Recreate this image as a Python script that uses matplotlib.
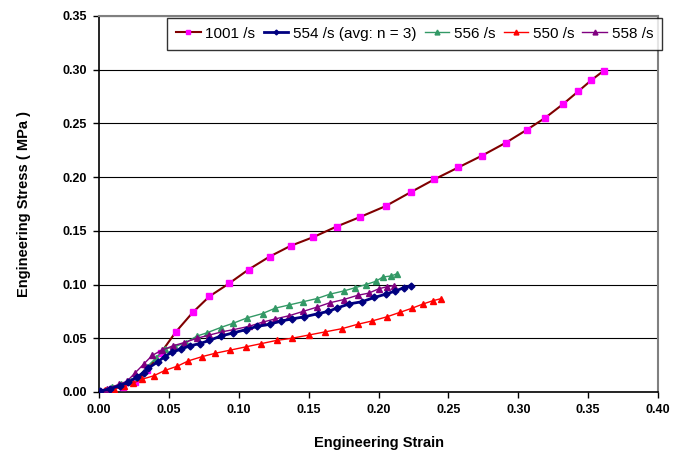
import matplotlib.pyplot as plt
from matplotlib.ticker import FormatStrFormatter

plt.rcParams['font.family'] = ['Liberation Sans', 'DejaVu Sans']

# 1001 /s
strain_1001 = [0.001, 0.009, 0.017, 0.026, 0.034, 0.044, 0.055, 0.067, 0.079, 0.093,
               0.107, 0.122, 0.137, 0.153, 0.170, 0.187, 0.205, 0.223, 0.240, 0.257,
               0.274, 0.291, 0.306, 0.319, 0.332, 0.343, 0.352, 0.361]
stress_1001 = [0.000, 0.003, 0.005, 0.009, 0.020, 0.036, 0.056, 0.074, 0.089, 0.101,
               0.114, 0.126, 0.136, 0.144, 0.154, 0.163, 0.173, 0.186, 0.198, 0.209,
               0.220, 0.232, 0.244, 0.255, 0.268, 0.280, 0.290, 0.299]

# 554 /s (avg: n = 3)
strain_554 = [0.001, 0.008, 0.015, 0.021, 0.027, 0.032, 0.035, 0.042, 0.047, 0.052,
              0.059, 0.065, 0.072, 0.079, 0.087, 0.096, 0.105, 0.113, 0.122, 0.130,
              0.138, 0.147, 0.157, 0.164, 0.170, 0.179, 0.188, 0.197, 0.205, 0.212,
              0.218, 0.223]
stress_554 = [0.001, 0.003, 0.006, 0.009, 0.014, 0.018, 0.022, 0.028, 0.033, 0.037,
              0.040, 0.043, 0.045, 0.048, 0.052, 0.055, 0.058, 0.061, 0.063, 0.066,
              0.068, 0.070, 0.073, 0.075, 0.078, 0.082, 0.084, 0.088, 0.091, 0.094,
              0.097, 0.099]

# 556 /s
strain_556 = [0.001, 0.009, 0.016, 0.023, 0.028, 0.034, 0.041, 0.047, 0.054, 0.062,
              0.070, 0.077, 0.087, 0.096, 0.106, 0.117, 0.126, 0.136, 0.146, 0.156,
              0.165, 0.175, 0.183, 0.191, 0.198, 0.203, 0.209, 0.213]
stress_556 = [0.001, 0.005, 0.007, 0.010, 0.014, 0.023, 0.032, 0.040, 0.042, 0.046,
              0.052, 0.055, 0.060, 0.064, 0.069, 0.073, 0.078, 0.081, 0.084, 0.087,
              0.091, 0.094, 0.097, 0.100, 0.103, 0.107, 0.108, 0.110]

# 550 /s
strain_550 = [0.001, 0.004, 0.011, 0.018, 0.024, 0.031, 0.039, 0.047, 0.056, 0.064,
              0.074, 0.083, 0.094, 0.105, 0.116, 0.127, 0.138, 0.150, 0.162, 0.174,
              0.185, 0.195, 0.206, 0.215, 0.224, 0.232, 0.239, 0.245]
stress_550 = [0.000, 0.002, 0.003, 0.006, 0.008, 0.012, 0.015, 0.020, 0.024, 0.029,
              0.033, 0.036, 0.039, 0.042, 0.045, 0.048, 0.050, 0.053, 0.056, 0.059,
              0.063, 0.066, 0.070, 0.074, 0.078, 0.082, 0.085, 0.087]

# 558 /s
strain_558 = [0.001, 0.006, 0.014, 0.020, 0.026, 0.032, 0.038, 0.045, 0.053, 0.061,
              0.070, 0.079, 0.088, 0.096, 0.107, 0.117, 0.126, 0.136, 0.146, 0.156,
              0.165, 0.175, 0.185, 0.193, 0.200, 0.206, 0.211]
stress_558 = [0.001, 0.003, 0.007, 0.010, 0.018, 0.026, 0.034, 0.039, 0.043, 0.046,
              0.050, 0.053, 0.056, 0.058, 0.061, 0.065, 0.068, 0.071, 0.075, 0.079,
              0.083, 0.086, 0.090, 0.092, 0.096, 0.098, 0.099]

fig = plt.figure(figsize=(6.75, 4.54), dpi=100)
ax = fig.add_axes([0.1467, 0.1366, 0.8283, 0.8282])

ax.plot(strain_1001, stress_1001, color='#800000', lw=1.5, marker='s', ms=5,
        mfc='#FF00FF', mec='#FF00FF', label='1001 /s', zorder=3)
ax.plot(strain_554, stress_554, color='#000080', lw=2, marker='D', ms=3.5,
        mfc='#000080', mec='#000080', label='554 /s (avg: n = 3)', zorder=4)
ax.plot(strain_556, stress_556, color='#339966', lw=1, marker='^', ms=5,
        mfc='#339966', mec='#339966', label='556 /s', zorder=3)
ax.plot(strain_550, stress_550, color='#FF0000', lw=1, marker='^', ms=5,
        mfc='#FF0000', mec='#FF0000', label='550 /s', zorder=3)
ax.plot(strain_558, stress_558, color='#800080', lw=1, marker='^', ms=5,
        mfc='#800080', mec='#800080', label='558 /s', zorder=3)

ax.set_xlim(0, 0.40)
ax.set_ylim(0, 0.35)
ax.set_xticks([0.00, 0.05, 0.10, 0.15, 0.20, 0.25, 0.30, 0.35, 0.40])
ax.set_yticks([0.00, 0.05, 0.10, 0.15, 0.20, 0.25, 0.30, 0.35])
ax.xaxis.set_major_formatter(FormatStrFormatter('%.2f'))
ax.yaxis.set_major_formatter(FormatStrFormatter('%.2f'))
ax.yaxis.grid(True, color='black', lw=0.8)
ax.set_axisbelow(True)

for lab in ax.get_xticklabels() + ax.get_yticklabels():
    lab.set_fontweight('bold')
    lab.set_fontsize(9)
ax.tick_params(direction='out', length=4, width=1, colors='black', pad=5)

ax.spines['left'].set_color('black')
ax.spines['bottom'].set_color('black')
ax.spines['left'].set_linewidth(1.2)
ax.spines['bottom'].set_linewidth(1.2)
ax.spines['top'].set_color('#808080')
ax.spines['right'].set_color('#808080')
ax.spines['top'].set_linewidth(1.5)
ax.spines['right'].set_linewidth(1.5)

ax.set_xlabel('Engineering Strain', fontsize=10.5, fontweight='bold', labelpad=14)
ax.set_ylabel('Engineering Stress ( MPa )', fontsize=10.5, fontweight='bold', labelpad=22)

leg = ax.legend(loc='upper right', bbox_to_anchor=(1.01, 1.0), ncol=5, fontsize=11,
                frameon=True, fancybox=False, handlelength=1.6, handletextpad=0.3,
                columnspacing=0.55, borderpad=0.6, borderaxespad=0.1, markerscale=0.7)
leg.get_frame().set_edgecolor('black')
leg.get_frame().set_linewidth(1)

fig.savefig('out.png', dpi=100)
